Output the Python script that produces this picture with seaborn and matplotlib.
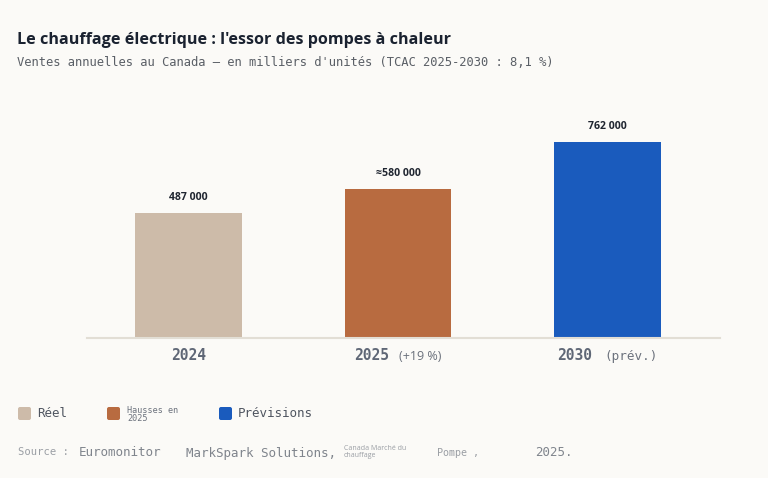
import matplotlib
matplotlib.use("Agg")
import matplotlib.pyplot as plt
import seaborn as sns
import pandas as pd
from matplotlib.offsetbox import TextArea, HPacker, AnnotationBbox
from matplotlib.patches import FancyBboxPatch

# ---- data ----
years = ["2024", "2025", "2030"]
suffixes = ["", "(+19 %)", "(prév.)"]
sales = [487000, 580000, 762000]
value_labels = ["487 000", "≈580 000", "762 000"]
colors = ["#CDBBA9", "#B86B40", "#1A5BBD"]
legend_labels = ["Réel", "Hausses en\n2025", "Prévisions"]

title = "Le chauffage électrique : l'essor des pompes à chaleur"
subtitle = "Ventes annuelles au Canada — en milliers d'unités (TCAC 2025-2030 : 8,1 %)"

BG = "#FBFAF7"
W, H = 768, 478
SANS = ["Open Sans", "DejaVu Sans"]

sns.set_theme(style="white")
plt.rcParams["font.family"] = ["DejaVu Sans Mono", "DejaVu Sans"]

fig = plt.figure(figsize=(W / 100, H / 100), dpi=100, facecolor=BG)
ax = fig.add_axes([87 / W, 1 - 338 / H, (720 - 87) / W, (338 - 100) / H])
ax.set_facecolor(BG)

df = pd.DataFrame({"year": years, "sales": sales})
sns.barplot(data=df, x="year", y="sales", hue="year", palette=colors,
            legend=False, width=0.51, saturation=1, linewidth=0, ax=ax)

ax.set_xlim(-0.485, 2.537)
ax.set_ylim(0, 925000)
for s in ["top", "right", "left"]:
    ax.spines[s].set_visible(False)
ax.spines["bottom"].set_color("#E2DED5")
ax.spines["bottom"].set_linewidth(1.5)
ax.set_yticks([])
ax.set_xticks(range(len(years)))
ax.set_xticklabels([""] * len(years))
ax.tick_params(axis="x", length=0)
ax.set_xlabel("")
ax.set_ylabel("")

# value labels
for i, (v, lab) in enumerate(zip(sales, value_labels)):
    ax.annotate(lab, xy=(i, v), xytext=(0, 9.4), textcoords="offset points",
                ha="center", va="baseline", fontsize=7.6, fontweight="bold",
                color="#1F2530", family=SANS)

# category labels
for i, (yr, suf) in enumerate(zip(years, suffixes)):
    children = [TextArea(yr, textprops=dict(fontsize=10.5, fontweight="bold",
                                            color="#5F6776",
                                            family=["DejaVu Sans Mono"]))]
    if suf:
        if "+" in suf:
            tp = dict(fontsize=9, color="#6B717C", family=SANS)
        else:
            tp = dict(fontsize=9.1, color="#6B717C", family=["DejaVu Sans Mono"])
        children.append(TextArea(suf, textprops=tp))
    pack = HPacker(children=children, align="baseline", pad=0,
                   sep=7 if "+" in suf else 8.5)
    ab = AnnotationBbox(pack, (i, 0), xycoords=("data", "axes fraction"),
                        xybox=(0, -12.3), boxcoords="offset points",
                        box_alignment=(0.5, 0.5), frameon=False, pad=0)
    ax.add_artist(ab)


def P(x, y):
    return x / W, 1 - y / H


# title & subtitle
fig.text(*P(17, 43.5), title, fontsize=11.6, fontweight="bold", color="#1A2230",
         family=SANS, va="baseline", ha="left")
fig.text(*P(17, 66), subtitle, fontsize=8.7, color="#5A5F66",
         family=["DejaVu Sans Mono"], va="baseline", ha="left")

# legend
leg_boxes = [18, 107, 219]
leg_text_x = [37, 127, 238]
leg_sizes = [9, 6.1, 9]
for bx, tx, c, lab, fs in zip(leg_boxes, leg_text_x, colors, legend_labels, leg_sizes):
    fig.add_artist(FancyBboxPatch((bx, H - 420), 13, 13,
                                  boxstyle="round,pad=0,rounding_size=2",
                                  facecolor=c, edgecolor="none", transform=None))
    fig.text(*P(tx, 414.5 if "\n" in lab else 413.5), lab, fontsize=fs,
             color="#4F5560" if fs > 7 else "#6B717C",
             family=["DejaVu Sans Mono"], va="center", ha="left",
             linespacing=0.95)

# source line
src_col = "#9A9EA4"
src_col2 = "#7F848C"
fig.text(*P(18, 452), "Source :", fontsize=7.6, color=src_col,
         family=["DejaVu Sans Mono"], va="center")
fig.text(*P(79, 453), "Euromonitor", fontsize=9, color=src_col2,
         family=["DejaVu Sans Mono"], va="center")
fig.text(*P(186, 453), "MarkSpark Solutions,", fontsize=9, color=src_col2,
         family=["DejaVu Sans Mono"], va="center")
fig.text(*P(344, 452), "Canada Marché du\nchauffage", fontsize=5, color=src_col,
         family=SANS, va="center", linespacing=0.9)
fig.text(*P(437, 453), "Pompe ,", fontsize=7.2, color=src_col,
         family=["DejaVu Sans Mono"], va="center")
fig.text(*P(535, 453), "2025.", fontsize=9, color=src_col2,
         family=["DejaVu Sans Mono"], va="center")

fig.savefig("out.png", dpi=100, facecolor=BG)
